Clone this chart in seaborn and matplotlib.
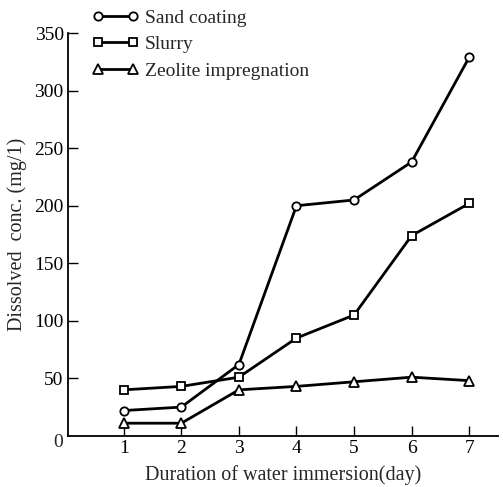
import matplotlib
matplotlib.use("Agg")
import matplotlib.pyplot as plt
import seaborn as sns

# values
days = [1, 2, 3, 4, 5, 6, 7]
sand_coating = [22, 25, 62, 200, 205, 238, 329]
slurry = [40, 43, 51, 85, 105, 174, 202]
zeolite = [11, 11, 40, 43, 47, 51, 48]
y_ticks = [50, 100, 150, 200, 250, 300, 350]

sns.set_style("ticks")
plt.rcParams["font.family"] = ["Liberation Serif", "DejaVu Serif"]

fig = plt.figure(figsize=(5.03, 4.87), dpi=100)
ax = fig.add_axes([0.135, 0.105, 0.855, 0.827])

series = [
    ("Sand coating", sand_coating, "o", 6),
    ("Slurry", slurry, "s", 6),
    ("Zeolite impregnation", zeolite, "^", 7),
]
for name, vals, mk, ms in series:
    sns.lineplot(x=days, y=vals, ax=ax, color="black", linewidth=2.0,
                 marker=mk, markersize=ms, markerfacecolor="white",
                 markeredgecolor="black", markeredgewidth=1.3, label=name)

ax.set_xlim(0.03, 7.5)
ax.set_ylim(0, 350)
ax.set_xticks(days)
ax.set_yticks(y_ticks)
ax.tick_params(direction="in", length=7, width=1.0, labelsize=14, colors="black", pad=3)
for s in ["top", "right"]:
    ax.spines[s].set_visible(False)
for s in ["left", "bottom"]:
    ax.spines[s].set_linewidth(1.3)
    ax.spines[s].set_color("black")

ax.text(-0.012, 0.005, "0", transform=ax.transAxes, ha="right", va="top", fontsize=14)
ax.set_xlabel("Duration of water immersion(day)", fontsize=14.5, labelpad=6)
ax.set_ylabel("Dissolved  conc. (mg/1)", fontsize=14.5, labelpad=5)

ax.legend(loc="upper left", bbox_to_anchor=(0.16, 1.005), bbox_transform=fig.transFigure,
          numpoints=2, handlelength=2.4, handletextpad=0.3, labelspacing=0.45,
          frameon=False, fontsize=14, borderaxespad=0.2)

fig.savefig("out.png", dpi=100)
